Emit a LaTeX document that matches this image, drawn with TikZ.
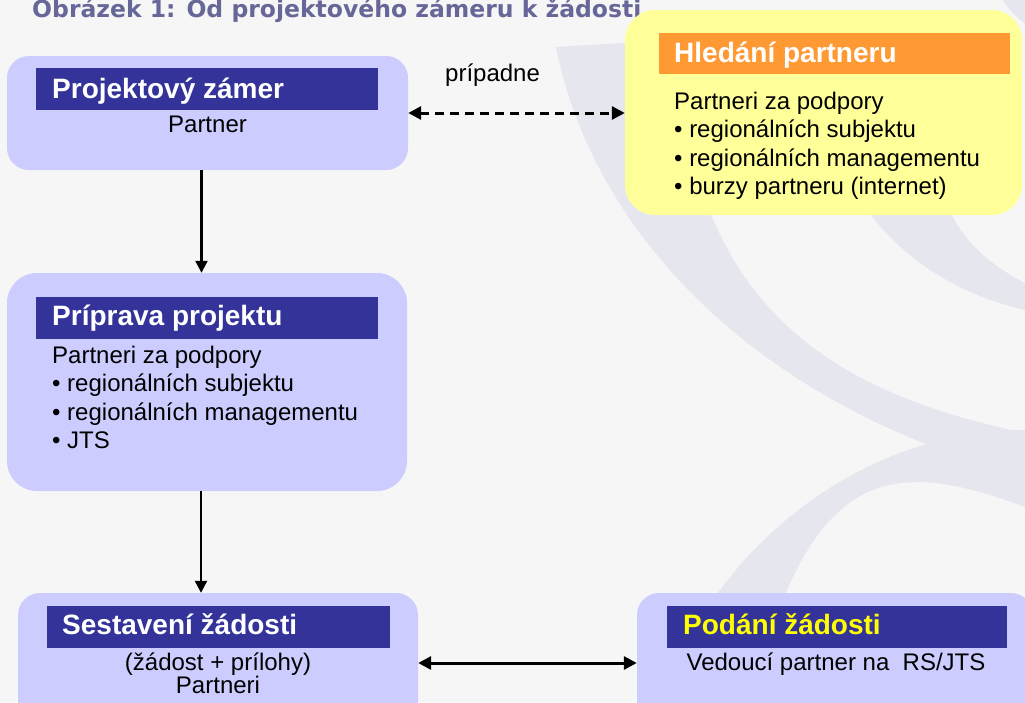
\documentclass[tikz,border=0pt]{standalone}
\usepackage{fontspec}
\setmainfont{Liberation Sans}
\newfontfamily\titlefont{DejaVu Sans}
\usetikzlibrary{arrows.meta}
\definecolor{bgc}{HTML}{F6F6F6}
\definecolor{ribc}{HTML}{E6E6EE}
\definecolor{lav}{HTML}{CCCCFF}
\definecolor{navy}{HTML}{333399}
\definecolor{lyel}{HTML}{FFFF99}
\definecolor{orng}{HTML}{FF9933}
\definecolor{ttlc}{HTML}{666699}
\definecolor{yelt}{HTML}{FFFF00}
\begin{document}
\begin{tikzpicture}[x=1pt,y=-1pt,
  lavbox/.style={fill=lav, draw=none, inner sep=0pt, rounded corners=#1},
  yelbox/.style={fill=lyel, draw=none, inner sep=0pt, rounded corners=30pt},
  bar/.style={fill=navy, draw=none, inner sep=0pt},
  obar/.style={fill=orng, draw=none, inner sep=0pt},
  head/.style={font=\bfseries\fontsize{28}{31}\selectfont, text=white, anchor=base west, inner sep=0pt},
  body/.style={font=\fontsize{24}{28.7}\selectfont, text=black, anchor=base west, inner sep=0pt},
  bodyc/.style={font=\fontsize{24}{28.7}\selectfont, text=black, anchor=base, inner sep=0pt},
  arr/.style={-{Triangle[length=12pt,width=12pt]}, line width=2.2pt},
  dasharr/.style={{Triangle[length=13pt,width=13pt]}-{Triangle[length=13pt,width=13pt]}, line width=3pt, dash pattern=on 9pt off 6pt},
  dblarr/.style={{Triangle[length=13pt,width=13pt]}-{Triangle[length=13pt,width=13pt]}, line width=3pt},
  ribbon/.style={fill=ribc, draw=none}
]
\useasboundingbox (0,0) rectangle (1025,702);
\clip (0,0) rectangle (1025,702);
\fill[bgc] (0,0) rectangle (1025,702);

% background ribbons
\path[ribbon] (556,47) .. controls (590,220) and (740,400) .. (1025,477)
  -- (1025,433) .. controls (820,390) and (690,300) .. (675,40) -- cycle;
\path[ribbon] (700,620) .. controls (760,520) and (880,430) .. (1025,430)
  -- (1025,507) .. controls (900,460) and (830,470) .. (775,620) -- cycle;
\path[ribbon] (860,200) .. controls (900,260) and (960,295) .. (1025,310)
  -- (1025,283) .. controls (990,265) and (960,240) .. (945,200) -- cycle;
\path[ribbon] (1003,0) -- (1025,0) -- (1025,24) .. controls (1015,16) and (1008,8) .. cycle;

% title
\node[font=\titlefont\bfseries\fontsize{23.5}{26}\selectfont, text=ttlc, anchor=base west, inner sep=0pt] (title) at (32,17) {Obrázek 1: Od projektového zámeru k žádosti};

% boxes
\node[lavbox=22pt, minimum width=401pt, minimum height=114pt] (pz) at (207.5,113) {};
\node[yelbox, minimum width=397pt, minimum height=205pt] (hp) at (823.5,112.5) {};
\node[lavbox=30pt, minimum width=400pt, minimum height=218pt] (pp) at (207,382) {};
\node[lavbox=22pt, minimum width=400pt, minimum height=140pt] (sz) at (218,663) {};
\node[lavbox=22pt, minimum width=396pt, minimum height=140pt] (pd) at (835,663) {};

% header bars
\node[bar, minimum width=342pt, minimum height=42pt] (b1) at (207,89) {};
\node[obar, minimum width=351pt, minimum height=41pt] (bh) at (834.5,53.5) {};
\node[bar, minimum width=342pt, minimum height=42pt] (b2) at (207,318) {};
\node[bar, minimum width=343pt, minimum height=42pt] (b3) at (218.5,627) {};
\node[bar, minimum width=340pt, minimum height=42pt] (b4) at (837,627) {};

% headings
\node[head] (h1) at (52,98.5) {Projektový zámer};
\node[head] (hh) at (674,62.5) {Hledání partneru};
\node[head] (h2) at (52,325.5) {Príprava projektu};
\node[head] (h3) at (62,634.5) {Sestavení žádosti};
\node[head, text=yelt] (h4) at (683,634.5) {Podání žádosti};

% body texts
\node[bodyc] (t1) at (207.5,132) {Partner};
\node[body] (lab) at (445,81) {prípadne};

\node[body] (y1) at (674,109) {Partneri za podpory};
\node[body] (y2) at (674,137.5) {• regionálních subjektu};
\node[body] (y3) at (674,166) {• regionálních managementu};
\node[body] (y4) at (674,194.5) {• burzy partneru (internet)};

\node[body] (p1) at (52,363) {Partneri za podpory};
\node[body] (p2) at (52,391.5) {• regionálních subjektu};
\node[body] (p3) at (52,420) {• regionálních managementu};
\node[body] (p4) at (52,448.5) {• JTS};

\node[bodyc] (s1) at (218,670) {(žádost + prílohy)};
\node[bodyc] (s2) at (218,693) {Partneri};
\node[bodyc] (d1) at (836,670) {Vedoucí partner na\ \ RS/JTS};

% connectors
\draw[arr] ([xshift=-6pt]pz.south) -- ([xshift=-6pt]pz.south |- pp.north);
\draw[arr] ([xshift=-6pt]pp.south) -- ([xshift=-6pt]pp.south |- sz.north);
\draw[dasharr] (pz.east) -- (pz.east -| hp.west);
\draw[dblarr] (sz.east) -- (pd.west);
\end{tikzpicture}
\end{document}
